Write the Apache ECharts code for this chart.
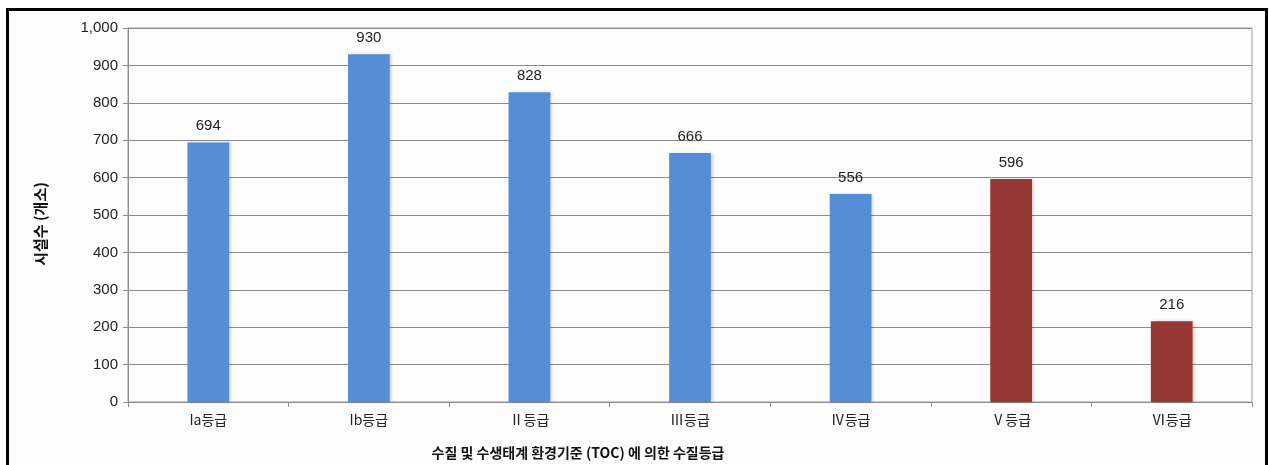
<!DOCTYPE html>
<html>
<head>
<meta charset="utf-8">
<script src="https://cdn.jsdelivr.net/npm/echarts@6/dist/echarts.min.js"></script>
<style>
  html, body { margin: 0; padding: 0; background: #ffffff; }
  #frame {
    position: absolute; left: 6px; top: 8px; width: 1256px; height: 470px;
    border: 3px solid #000; background: #fdfdfd;
  }
  #chart { position: absolute; left: 0; top: 0; width: 1269px; height: 465px; }
</style>
</head>
<body>
<div id="frame"></div>
<div id="chart"></div>
<script>
// Facility counts per water-quality grade (TOC standard)
const categories = ['Ia등급', 'Ib등급', 'Ⅱ등급', 'Ⅲ등급', 'Ⅳ등급', 'Ⅴ등급', 'Ⅵ등급'];
const facilityCounts = [694, 930, 828, 666, 556, 596, 216];
const poorGradeStart = 5; // grades Ⅴ and Ⅵ are drawn in red

const BLUE = '#558ed5';
const RED = '#953735';
const LATIN = '"Liberation Sans", Arial, "Noto Sans CJK KR", sans-serif';
const KOREAN = '"Noto Sans CJK KR", "Liberation Sans", sans-serif';

const chart = echarts.init(document.getElementById('chart'), null, { renderer: 'canvas' });

chart.setOption({
  backgroundColor: 'transparent',
  animation: false,
  grid: { left: 128, right: 17, top: 28, bottom: 63, containLabel: false,
          show: true, borderColor: '#9a9a9a', borderWidth: 1 },
  title: {
    text: '수질 및 수생태계 환경기준 (TOC) 에 의한 수질등급',
    left: 573, top: 441, textAlign: 'center',
    textStyle: { fontFamily: KOREAN, fontSize: 14, fontWeight: 'bold', color: '#111' }
  },
  xAxis: {
    type: 'category',
    data: categories,
    boundaryGap: true,
    axisLine: { lineStyle: { color: '#8c8c8c', width: 1 } },
    axisTick: { show: true, length: 5, alignWithLabel: false, lineStyle: { color: '#8c8c8c' } },
    axisLabel: { fontFamily: KOREAN, fontSize: 14, color: '#222', margin: 11 }
  },
  yAxis: {
    type: 'value',
    min: 0, max: 1000, interval: 100,
    name: '시설수 (개소)',
    nameLocation: 'middle',
    nameGap: 80,
    nameRotate: 90,
    nameTextStyle: { fontFamily: KOREAN, fontSize: 15, fontWeight: 'bold', color: '#111', padding: [0, 18, 0, 0] },
    axisLine: { show: true, lineStyle: { color: '#8c8c8c', width: 1 } },
    axisTick: { show: true, length: 5, lineStyle: { color: '#8c8c8c' } },
    splitLine: { lineStyle: { color: '#8c8c8c', width: 1 } },
    axisLabel: {
      fontFamily: LATIN, fontSize: 15, color: '#222', margin: 10,
      formatter: v => v.toLocaleString('en-US')
    }
  },
  series: [{
    type: 'bar',
    data: facilityCounts,
    barWidth: '26%',
    itemStyle: {
      color: p => (p.dataIndex >= poorGradeStart ? RED : BLUE),
      shadowColor: 'rgba(0,0,0,0.18)', shadowBlur: 3, shadowOffsetX: 2, shadowOffsetY: 0
    },
    label: {
      show: true, position: 'top', distance: 9,
      fontFamily: LATIN, fontSize: 15, color: '#222'
    }
  }]
});
</script>
</body>
</html>
